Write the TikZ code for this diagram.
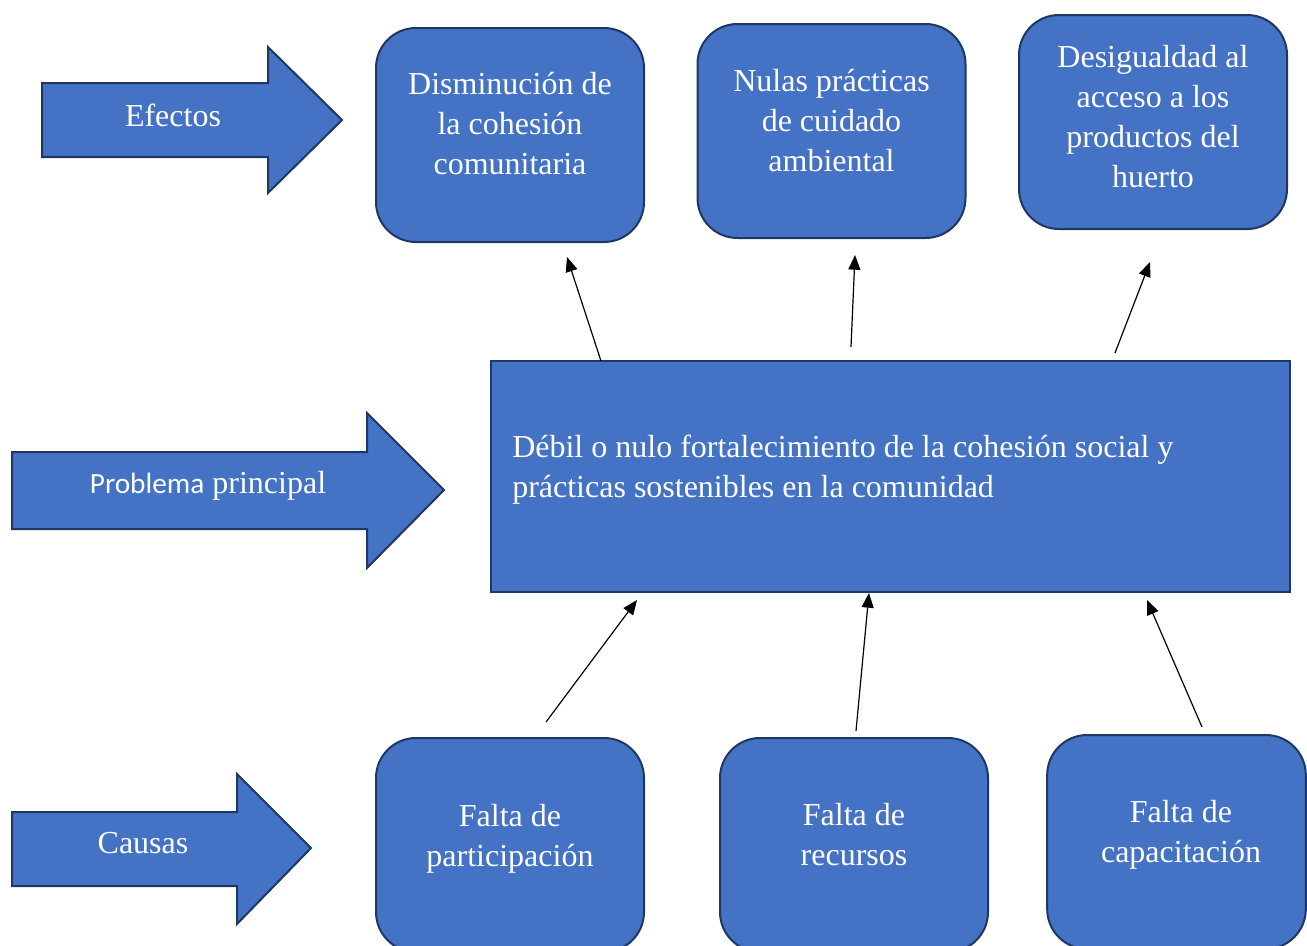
\documentclass[tikz,border=0pt]{standalone}
\usepackage{fontspec}
\setmainfont{Liberation Serif}
\newfontfamily\calibrifont{Carlito}
\usepackage{tikz}
\usetikzlibrary{positioning,arrows.meta}

\definecolor{boxblue}{HTML}{4472C4}
\definecolor{boxline}{HTML}{1F3763}

\tikzset{
  rbox/.style={draw=boxline, fill=boxblue, line width=1.5pt, rounded corners=30pt,
    minimum width=201pt, minimum height=160.5pt},
  mainbox/.style={draw=boxline, fill=boxblue, line width=1.5pt,
    minimum width=599pt, minimum height=173pt},
  bigarrow/.style={draw=boxline, fill=boxblue, line width=1.5pt, line join=miter},
  boxtext/.style={text=white, align=center, inner sep=0pt, font=\fontsize{24}{30}\selectfont},
  conn/.style={line width=0.9pt, -{Triangle[length=11pt,width=9pt]}},
}

\begin{document}
\begin{tikzpicture}[x=0.75pt, y=-0.75pt]
\useasboundingbox (0,0) rectangle (1307,946);
\clip (0,0) rectangle (1307,946);

% big arrows on the left
\draw[bigarrow] (42,83) -- (268,83) -- (268,47) -- (342,120) -- (268,193) -- (268,157) -- (42,157) -- cycle;
\node[boxtext] (efectos) at (173,115) {Efectos};

\draw[bigarrow] (12,452) -- (367,452) -- (367,413) -- (444,490) -- (367,568) -- (367,529) -- (12,529) -- cycle;
\node[boxtext] (problema) at (208,486) {{\calibrifont\fontsize{22}{28}\selectfont Problema} principal};

\draw[bigarrow] (12,812) -- (237,812) -- (237,774) -- (311,848) -- (237,924) -- (237,886) -- (12,886) -- cycle;
\node[boxtext] (causas) at (143,843) {Causas};

% effects
\node[rbox] (e1) at (510,135) {};
\node[boxtext] (e1t) at (510,124) {Disminución de\\la cohesión\\comunitaria};
\node[rbox] (e2) at (831.5,131) {};
\node[boxtext] (e2t) at (831.5,121) {Nulas prácticas\\de cuidado\\ambiental};
\node[rbox] (e3) at (1153,122) {};
\node[boxtext] (e3t) at (1153,117) {Desigualdad al\\acceso a los\\productos del\\huerto};

% main problem
\node[mainbox] (main) at (890.5,476.5) {};
\node[boxtext, align=left, anchor=west] (maint) at (512,470)
  {Débil o nulo fortalecimiento de la cohesión social y\\prácticas sostenibles en la comunidad};

% causes
\node[rbox] (c1) at (510,845) {};
\node[boxtext] (c1t) at (510,839) {Falta de\\participación};
\node[rbox] (c2) at (854,845) {};
\node[boxtext] (c2t) at (854,835) {Falta de\\recursos};
\node[rbox, minimum width=194pt] (c3) at (1176.5,842) {};
\node[boxtext] (c3t) at (1181,835) {Falta de\\capacitación};

% connector ends
\coordinate (m1) at (601,361);
\coordinate (m2) at (851,347);
\coordinate (m3) at (1115,353);
\coordinate (t1) at (567,257);
\coordinate (t2) at (855,255);
\coordinate (t3) at (1150,262);
\coordinate (b1) at (637,600);
\coordinate (b2) at (869,593);
\coordinate (b3) at (1147,600);
\coordinate (s1) at (546,722);
\coordinate (s2) at (856,731);
\coordinate (s3) at (1202,727);

\draw[conn] (m1) -- (t1);
\draw[conn] (m2) -- (t2);
\draw[conn] (m3) -- (t3);
\draw[conn] (s1) -- (b1);
\draw[conn] (s2) -- (b2);
\draw[conn] (s3) -- (b3);
\end{tikzpicture}
\end{document}
